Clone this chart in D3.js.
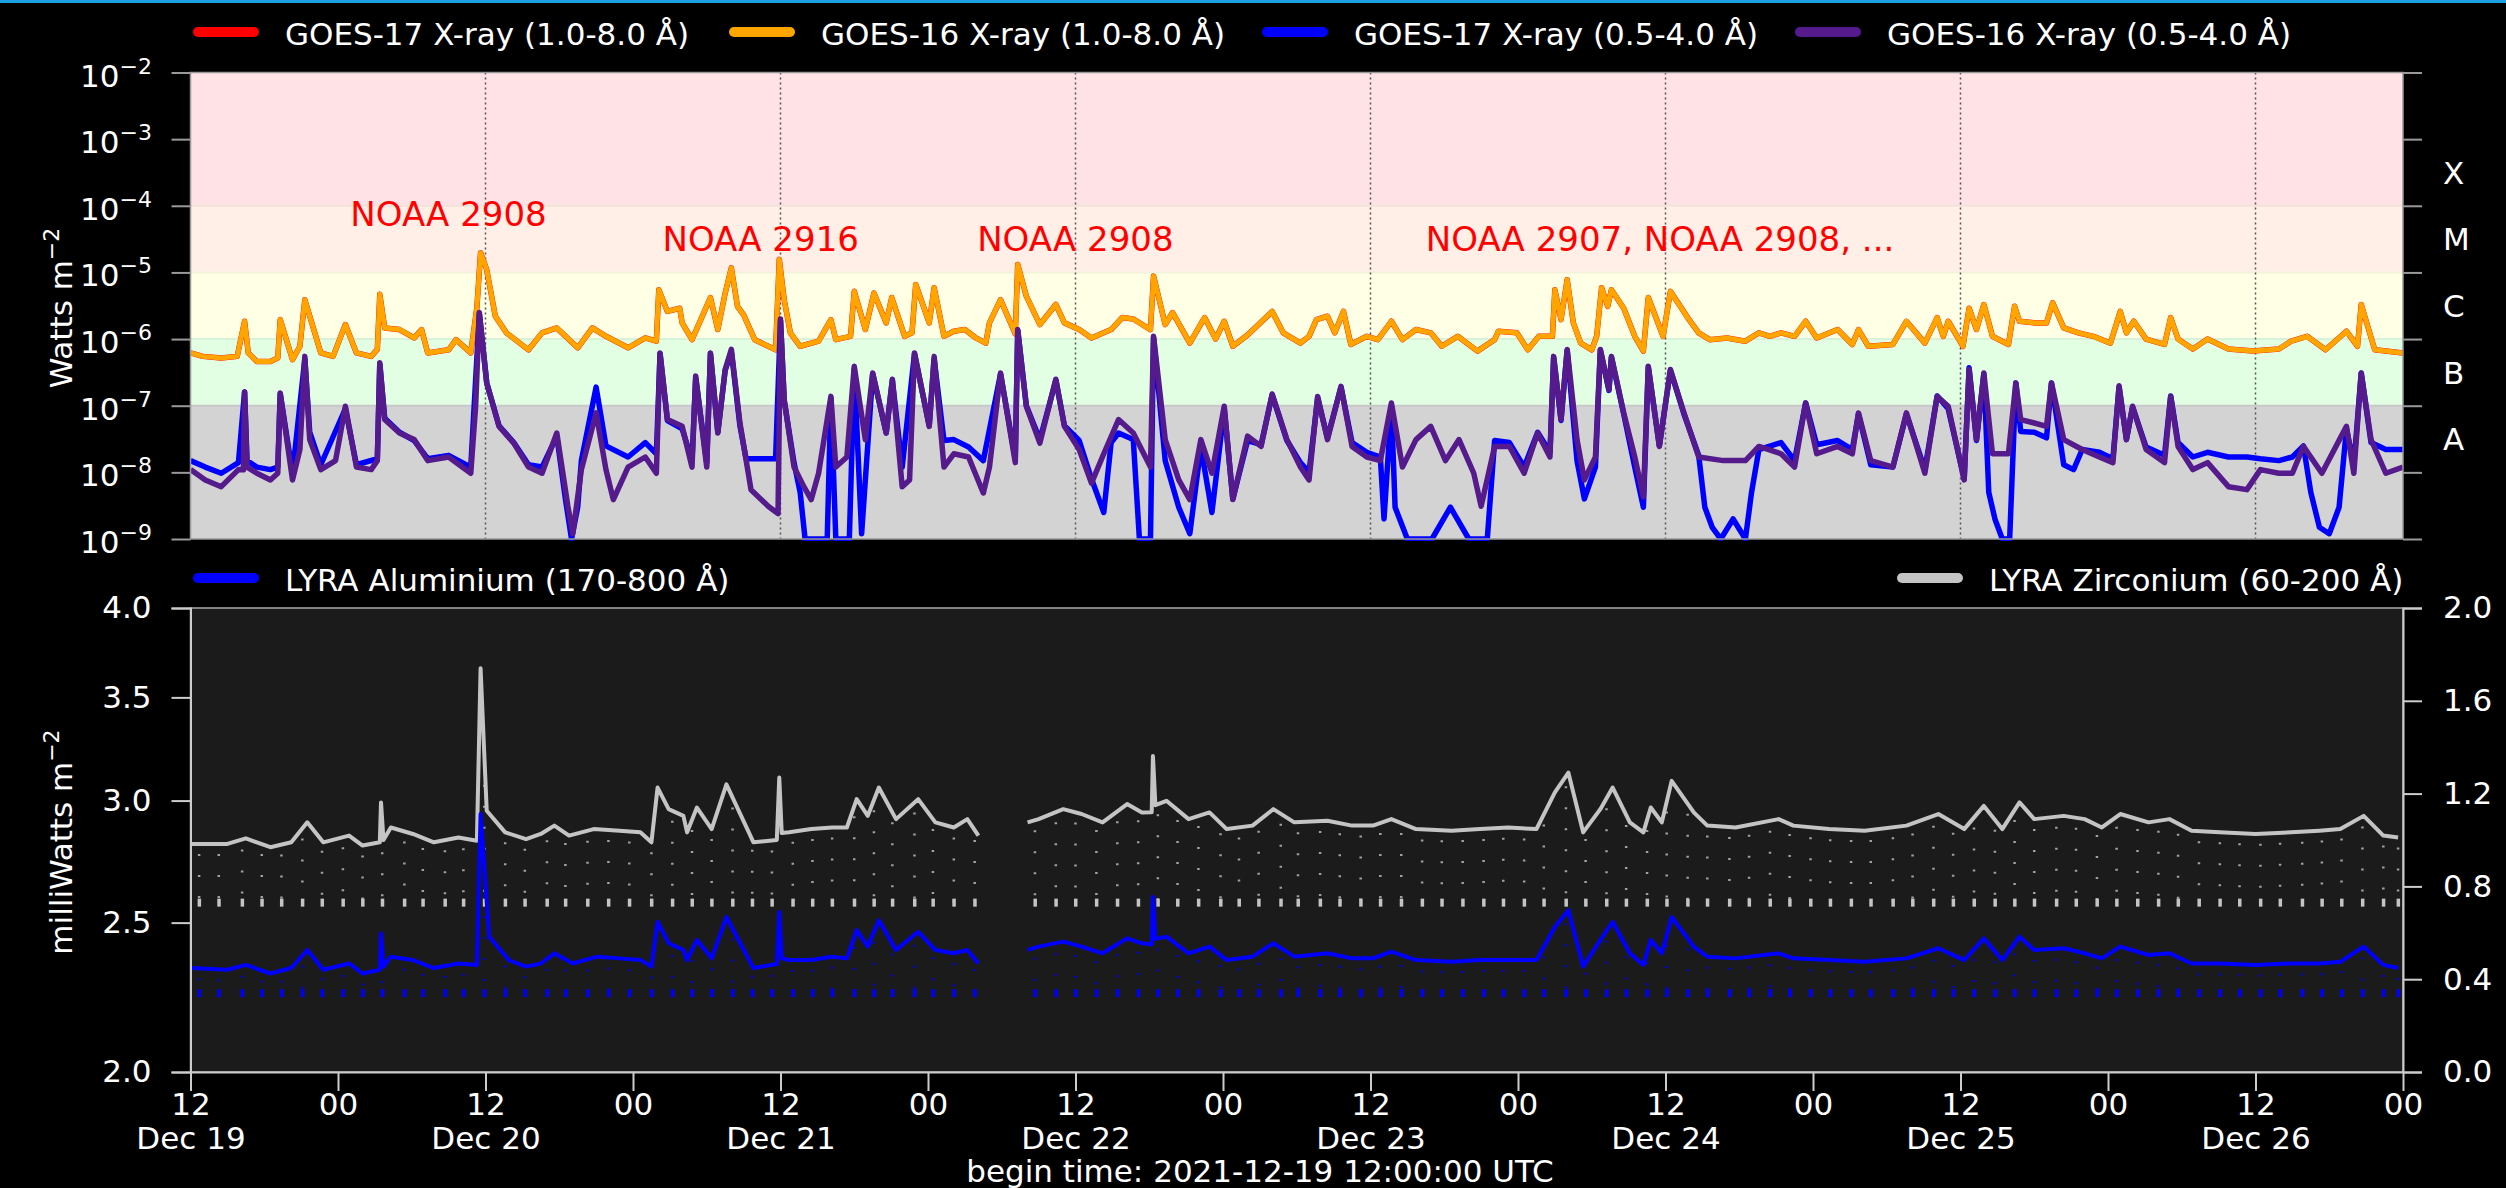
<!DOCTYPE html>
<html>
<head>
<meta charset="utf-8">
<title>GOES X-ray and LYRA</title>
<style>
  body { margin: 0; background: #000; }
  svg text { font-family: "DejaVu Sans", sans-serif; fill: #fff; }
</style>
</head>
<body>
<script src="https://cdn.jsdelivr.net/npm/d3@7"></script>
<script>
// hours after 2021-12-19 12:00 UTC
var startTime = Date.UTC(2021, 11, 19, 12);

// GOES-16 1.0-8.0 A, W/m^2
var goes16Long = [
  [0.0,6.2e-7],[1.0,5.5e-7],[2.5,5.2e-7],[3.8,5.5e-7],[4.4,1.85e-6],[4.7,6.2e-7],[5.4,4.6e-7],[6.5,4.6e-7],
  [7.1,5.2e-7],[7.3,1.96e-6],[8.3,4.9e-7],[8.9,7.8e-7],[9.3,3.9e-6],[10.6,6.2e-7],[11.6,5.5e-7],[12.6,1.65e-6],
  [13.5,6.2e-7],[14.7,5.5e-7],[15.2,7e-7],[15.4,4.7e-6],[15.8,1.47e-6],[17.0,1.39e-6],[18.2,1.04e-6],[18.8,1.39e-6],
  [19.3,6.2e-7],[21.0,6.9e-7],[21.6,9.8e-7],[22.8,6.2e-7],[23.3,3e-6],[23.6,1.98e-5],[24.1,1.1e-5],[24.8,2.2e-6],
  [25.7,1.24e-6],[27.5,6.9e-7],[28.6,1.24e-6],[29.8,1.47e-6],[31.5,7.4e-7],[32.7,1.47e-6],[33.8,1.1e-6],[35.6,7.4e-7],
  [37.0,1.04e-6],[37.9,9.3e-7],[38.1,5.5e-6],[38.8,2.6e-6],[39.8,2.9e-6],[40.0,1.75e-6],[40.8,9.8e-7],[41.4,1.75e-6],
  [42.3,4.2e-6],[42.9,1.39e-6],[43.5,4.9e-6],[44.0,1.17e-5],[44.5,3.1e-6],[45.0,2.3e-6],[45.9,9.8e-7],[47.6,6.9e-7],
  [47.9,1.57e-5],[48.3,3.9e-6],[48.8,1.24e-6],[49.6,7.8e-7],[51.1,9.3e-7],[52.1,1.96e-6],[52.5,9.8e-7],[53.7,1.1e-6],
  [54.0,5.2e-6],[54.9,1.39e-6],[55.6,4.9e-6],[56.6,1.75e-6],[57.05,4.2e-6],[58.1,1.1e-6],[58.7,1.24e-6],[59.0,6.6e-6],
  [60.1,1.75e-6],[60.5,5.9e-6],[61.3,1.1e-6],[62.1,1.31e-6],[63.0,1.39e-6],[63.9,1.04e-6],[64.7,8.7e-7],[65.0,1.75e-6],
  [65.9,3.9e-6],[67.1,1.2e-6],[67.3,1.32e-5],[68.0,4.4e-6],[69.1,1.65e-6],[70.4,3.3e-6],[71.1,1.75e-6],[72.3,1.39e-6],
  [73.3,1.04e-6],[74.9,1.39e-6],[75.8,2.1e-6],[76.7,2e-6],[78.1,1.39e-6],[78.35,8.8e-6],[79.3,1.65e-6],[79.9,2.5e-6],
  [81.3,8.7e-7],[82.5,2.1e-6],[83.4,1e-6],[84.1,1.85e-6],[84.8,7.8e-7],[86.0,1.15e-6],[88.0,2.6e-6],[88.9,1.24e-6],
  [90.3,8.7e-7],[91.0,1.1e-6],[91.6,1.96e-6],[92.5,2.2e-6],[93.1,1.24e-6],[93.8,2.6e-6],[94.4,8.3e-7],[95.7,1.1e-6],
  [96.6,9.8e-7],[97.7,1.85e-6],[98.6,9.8e-7],[99.7,1.39e-6],[100.9,1.24e-6],[101.8,7.8e-7],[103.1,1.1e-6],[104.7,6.6e-7],
  [106.1,9.8e-7],[106.4,1.31e-6],[107.9,1.24e-6],[108.8,6.9e-7],[109.7,1.1e-6],[110.8,1.1e-6],[111.0,5.5e-6],[111.5,1.96e-6],
  [112.0,7.8e-6],[112.5,1.75e-6],[113.1,8.7e-7],[114.0,6.9e-7],[114.4,1.1e-6],[114.8,5.9e-6],[115.3,3.1e-6],[115.6,5.5e-6],
  [116.6,2.9e-6],[117.5,1.1e-6],[118.2,6.6e-7],[118.6,4.2e-6],[119.8,1.1e-6],[120.4,5.2e-6],[121.2,3.1e-6],[121.8,2.1e-6],
  [122.7,1.24e-6],[123.6,9.8e-7],[125.0,1.04e-6],[126.5,9.3e-7],[127.6,1.24e-6],[128.5,1.1e-6],[129.4,1.24e-6],[130.5,1.1e-6],
  [131.4,1.85e-6],[132.3,1.04e-6],[134.0,1.39e-6],[135.2,8.3e-7],[135.7,1.39e-6],[136.5,7.8e-7],[138.5,8.3e-7],[139.6,1.85e-6],
  [141.1,8.7e-7],[142.1,2.1e-6],[142.6,1.1e-6],[143.0,1.85e-6],[144.2,7.8e-7],[144.7,2.9e-6],[145.3,1.39e-6],[145.9,3.3e-6],
  [146.6,1.1e-6],[147.9,8.3e-7],[148.4,3.1e-6],[148.8,1.85e-6],[150.0,1.75e-6],[151.0,1.75e-6],[151.5,3.5e-6],[152.4,1.47e-6],
  [153.6,1.24e-6],[154.8,1.1e-6],[156.2,8.7e-7],[157.0,2.6e-6],[157.5,1.24e-6],[158.1,1.85e-6],[159.1,1e-6],[160.6,8.3e-7],
  [161.1,2.1e-6],[161.7,1e-6],[162.9,7.1e-7],[164.1,1e-6],[165.8,7.1e-7],[167.8,6.6e-7],[169.9,7.1e-7],[170.9,9.3e-7],
  [172.2,1.1e-6],[173.7,6.9e-7],[175.4,1.31e-6],[176.3,7.8e-7],[176.6,3.3e-6],[177.7,6.9e-7],[178.6,6.6e-7],[180.0,6.2e-7]
];
// GOES-17 1.0-8.0 A lies on top of GOES-16 within the line width
var goes17Long = goes16Long;

// GOES-16 0.5-4.0 A
var goes16Short = [
  [0.0,1.1e-8],[1.2,7.7e-9],[2.5,6.1e-9],[3.9,1.1e-8],[4.3,1.09e-8],[4.4,1.6e-7],[4.6,1.2e-8],[5.4,9.7e-9],
  [6.5,7.7e-9],[7.1,9.7e-9],[7.3,1.55e-7],[8.3,7.7e-9],[8.9,2.2e-8],[9.3,5.5e-7],[9.7,3.1e-8],[10.6,1.1e-8],
  [11.8,1.5e-8],[12.6,9.8e-8],[13.5,1.2e-8],[14.7,1.1e-8],[15.2,1.5e-8],[15.4,4.4e-7],[15.8,6.2e-8],[17.0,3.9e-8],
  [18.2,3.1e-8],[19.3,1.5e-8],[21.0,1.7e-8],[22.8,9.7e-9],[23.2,1e-7],[23.5,2.5e-6],[24.1,2.2e-7],[25.1,4.9e-8],
  [26.3,2.75e-8],[27.5,1.2e-8],[28.6,9.7e-9],[29.8,3.9e-8],[30.7,3.1e-9],[31.1,1.2e-9],[31.8,1.1e-8],[33.0,7.8e-8],
  [33.8,1.1e-8],[34.4,3.9e-9],[35.6,1.2e-8],[37.0,1.7e-8],[37.9,9.7e-9],[38.2,6.2e-7],[38.8,6.2e-8],[40.0,4.9e-8],
  [40.8,1.2e-8],[41.1,2.8e-7],[42.0,1.2e-8],[42.3,6.2e-7],[42.9,3.9e-8],[43.5,3.5e-7],[44.0,7e-7],[44.7,5.5e-8],
  [45.6,5.5e-9],[47.0,3.1e-9],[47.8,2.4e-9],[48.0,2e-6],[48.3,1.23e-7],[49.1,1.2e-8],[49.9,6.1e-9],[50.5,3.9e-9],
  [51.1,9.7e-9],[52.1,1.38e-7],[52.5,1.2e-8],[53.4,1.7e-8],[54.0,3.9e-7],[54.9,3.1e-8],[55.5,3.1e-7],[56.6,3.9e-8],
  [57.1,2.5e-7],[57.9,6.1e-9],[58.5,7.7e-9],[58.9,6.2e-7],[60.1,4.9e-8],[60.5,5.5e-7],[61.3,1.2e-8],[62.1,1.9e-8],
  [63.3,1.7e-8],[64.5,4.9e-9],[65.0,1.2e-8],[65.9,3.1e-7],[67.1,1.4e-8],[67.3,1.39e-6],[68.0,9.8e-8],[69.1,2.75e-8],
  [70.4,2.5e-7],[71.1,4.9e-8],[72.3,2.2e-8],[73.3,6.9e-9],[74.3,1.9e-8],[75.5,6.2e-8],[76.7,3.9e-8],[78.1,1.2e-8],
  [78.35,1.1e-6],[79.3,3.1e-8],[80.4,7.7e-9],[81.3,3.9e-9],[82.2,3.1e-8],[83.1,9.7e-9],[84.1,9.8e-8],[84.8,3.9e-9],
  [86.0,3.5e-8],[87.1,2.45e-8],[88.0,1.5e-7],[89.2,3.1e-8],[90.3,1.2e-8],[91.0,7.7e-9],[91.7,1.38e-7],[92.5,3.1e-8],
  [93.6,1.95e-7],[94.5,2.45e-8],[95.7,1.7e-8],[96.8,1.5e-8],[97.7,1.1e-7],[98.6,1.2e-8],[99.7,3.1e-8],[100.9,4.9e-8],
  [102.1,1.5e-8],[103.2,3.1e-8],[104.4,9.7e-9],[105.0,3.1e-9],[106.1,2.45e-8],[107.3,2.45e-8],[108.5,9.7e-9],[109.6,3.9e-8],
  [110.6,1.7e-8],[110.9,5.5e-7],[111.5,6.2e-8],[112.0,7e-7],[112.8,3.1e-8],[113.4,7.7e-9],[114.3,1.7e-8],[114.7,7e-7],
  [115.4,1.74e-7],[115.6,5.5e-7],[116.6,7.8e-8],[117.5,1.7e-8],[118.2,4.3e-9],[118.6,3.9e-7],[119.5,2.45e-8],[120.4,3.5e-7],
  [121.5,7.8e-8],[122.7,1.7e-8],[124.7,1.5e-8],[126.5,1.5e-8],[127.6,2.45e-8],[129.4,1.9e-8],[130.5,1.2e-8],[131.4,1.1e-7],
  [132.3,1.9e-8],[134.0,2.45e-8],[135.2,1.9e-8],[135.7,7.8e-8],[136.7,1.5e-8],[138.5,1.2e-8],[139.6,7.8e-8],[141.1,9.7e-9],
  [142.1,1.38e-7],[143.0,9.8e-8],[144.3,7.7e-9],[144.7,3.5e-7],[145.3,3.1e-8],[145.9,3.1e-7],[146.6,1.9e-8],[147.9,1.9e-8],
  [148.5,2.2e-7],[148.9,6.2e-8],[150.0,5.5e-8],[151.0,4.9e-8],[151.4,2.2e-7],[152.4,3.1e-8],[153.9,2.2e-8],[155.3,1.7e-8],
  [156.4,1.4e-8],[156.9,2e-7],[157.5,3.1e-8],[158.0,9.8e-8],[159.1,2.2e-8],[160.6,1.4e-8],[161.1,1.38e-7],[161.7,2.45e-8],
  [162.9,1.1e-8],[164.1,1.4e-8],[165.8,6.1e-9],[167.3,5.5e-9],[168.4,1.1e-8],[169.9,9.7e-9],[171.0,9.7e-9],[171.9,2.45e-8],
  [173.4,9.7e-9],[175.4,4.9e-8],[176.0,9.7e-9],[176.6,3.1e-7],[177.4,3.1e-8],[178.6,9.7e-9],[180.0,1.2e-8]
];

// GOES-17 0.5-4.0 A
var goes17Short = [
  [0.0,1.5e-8],[1.2,1.2e-8],[2.5,9.7e-9],[3.9,1.4e-8],[4.4,1.6e-7],[4.6,1.5e-8],[5.4,1.2e-8],[6.5,1.1e-8],
  [7.1,1.2e-8],[7.3,1.5e-7],[8.3,9.7e-9],[9.3,5e-7],[9.7,4e-8],[10.6,1.3e-8],[12.6,9e-8],[13.5,1.3e-8],
  [15.2,1.6e-8],[15.4,4.2e-7],[15.8,6.5e-8],[17.0,4e-8],[18.2,3e-8],[19.3,1.6e-8],[21.0,1.8e-8],[22.8,1.2e-8],
  [23.5,2.4e-6],[24.1,2.2e-7],[25.1,5e-8],[26.3,2.8e-8],[27.5,1.3e-8],[28.6,1.2e-8],[29.8,3.5e-8],[30.5,4e-9],
  [31.0,1e-9],[31.5,3e-9],[31.8,1.5e-8],[33.0,1.9e-7],[33.8,2.5e-8],[35.6,1.7e-8],[37.0,2.8e-8],[37.9,1.9e-8],
  [38.2,6e-7],[38.8,6e-8],[40.0,4.5e-8],[40.8,1.5e-8],[41.1,2.6e-7],[42.0,1.4e-8],[42.3,6e-7],[42.9,4e-8],
  [43.5,3.4e-7],[44.0,6.5e-7],[44.7,5e-8],[45.2,1.6e-8],[47.6,1.6e-8],[48.0,1.9e-6],[48.3,1.2e-7],[49.1,1.4e-8],
  [49.6,5e-9],[50.0,1e-9],[51.8,1e-9],[52.1,1.3e-7],[52.5,1e-9],[53.6,1e-9],[54.0,3.5e-7],[54.6,1.2e-9],
  [55.5,3e-7],[56.6,3.9e-8],[57.1,2.4e-7],[57.9,1.2e-8],[58.9,6e-7],[60.1,5e-8],[60.5,5e-7],[61.3,3e-8],
  [62.1,3.1e-8],[63.3,2.4e-8],[64.5,1.5e-8],[65.9,3e-7],[67.1,1.6e-8],[67.3,1.35e-6],[68.0,1e-7],[69.1,3.1e-8],
  [70.4,2.4e-7],[71.1,5e-8],[72.3,3e-8],[73.3,8e-9],[74.3,2.5e-9],[74.9,2.8e-8],[75.5,3.9e-8],[76.7,3.1e-8],
  [77.2,1e-9],[78.1,1e-9],[78.35,1.05e-6],[79.3,1.5e-8],[80.4,3e-9],[81.3,1.2e-9],[82.2,2.4e-8],[83.1,2.5e-9],
  [84.1,9e-8],[84.8,4e-9],[86.0,3e-8],[87.1,2.6e-8],[88.0,1.45e-7],[89.2,3e-8],[90.3,1.4e-8],[91.0,1e-8],
  [91.7,1.3e-7],[92.5,3.3e-8],[93.6,1.9e-7],[94.5,2.8e-8],[95.7,2e-8],[96.8,1.7e-8],[97.1,2e-9],[97.7,1e-7],
  [98.0,3e-9],[99.0,1e-9],[101.0,1e-9],[102.5,3e-9],[104.0,1e-9],[105.5,1e-9],[106.1,3e-8],[107.3,2.8e-8],
  [108.5,1.2e-8],[109.6,4e-8],[110.6,2e-8],[110.9,5.3e-7],[111.5,6e-8],[112.0,6.8e-7],[112.8,1.5e-8],[113.4,4e-9],
  [114.3,1.2e-8],[114.7,6.8e-7],[115.4,1.7e-7],[115.6,5.3e-7],[116.6,7.5e-8],[117.5,1.2e-8],[118.2,3e-9],[118.6,3.8e-7],
  [119.5,2.5e-8],[120.4,3.4e-7],[121.5,7.5e-8],[122.7,1.8e-8],[123.2,3e-9],[123.8,1.5e-9],[124.5,1e-9],[125.5,2e-9],
  [126.5,1e-9],[127.0,5e-9],[127.6,2.2e-8],[129.4,2.8e-8],[130.5,1.5e-8],[131.4,1.1e-7],[132.3,2.6e-8],[134.0,3e-8],
  [135.2,2.2e-8],[135.7,7.5e-8],[136.7,1.3e-8],[138.5,1.2e-8],[139.6,7.5e-8],[141.1,1.1e-8],[142.1,1.4e-7],[143.0,9e-8],
  [144.3,8e-9],[144.7,3.7e-7],[145.3,3e-8],[145.9,3e-7],[146.3,5e-9],[146.8,2e-9],[147.4,1e-9],[148.0,1e-9],
  [148.5,2.2e-7],[148.9,4.1e-8],[150.0,4e-8],[151.0,3.3e-8],[151.4,2.2e-7],[152.4,1.3e-8],[153.2,1.1e-8],[153.9,2.2e-8],
  [155.3,2e-8],[156.4,1.6e-8],[156.9,1.9e-7],[157.5,3.1e-8],[158.0,9.5e-8],[159.1,2.4e-8],[160.6,1.8e-8],[161.1,1.4e-7],
  [161.7,2.8e-8],[162.9,1.7e-8],[164.1,2e-8],[165.8,1.7e-8],[167.3,1.7e-8],[168.4,1.6e-8],[169.9,1.5e-8],[171.0,1.7e-8],
  [171.9,2.5e-8],[172.5,5e-9],[173.2,1.5e-9],[174.0,1.2e-9],[174.8,3e-9],[175.4,4.5e-8],[176.0,1.3e-8],[176.6,3.1e-7],
  [177.4,2.8e-8],[178.6,2.2e-8],[180.0,2.2e-8]
];

// LYRA Zirconium (right axis) and Aluminium (left axis), mW/m^2; null = data gap
var lyraZr = [
  [0.1,0.983],[3.0,0.983],[4.5,1.007],[6.5,0.969],[8.2,0.990],[9.5,1.076],[10.8,0.990],[12.9,1.019],[14.0,0.976],
  [15.4,0.99],[15.5,1.162],[15.7,1.0],[16.3,1.054],[18.1,1.026],[19.8,0.990],[21.8,1.011],[23.3,0.997],[23.6,1.74],
  [24.1,1.126],[25.6,1.033],[27.3,1.004],[28.5,1.026],[29.6,1.062],[30.8,1.019],[32.8,1.047],[34.9,1.040],[36.6,1.033],
  [37.5,0.990],[38.0,1.226],[38.9,1.133],[40.1,1.104],[40.4,1.033],[41.2,1.140],[42.4,1.047],[43.6,1.240],[45.3,1.047],
  [45.8,0.990],[47.7,1.0],[47.9,1.269],[48.1,1.03],[48.7,1.033],[50.5,1.047],[52.2,1.054],[53.4,1.054],[54.2,1.176],
  [55.1,1.104],[56.0,1.226],[57.4,1.090],[59.2,1.176],[60.6,1.076],[62.1,1.054],[63.2,1.090],[64.1,1.019],[66.0,null],
  [68.1,1.076],[69.0,1.090],[71.0,1.133],[72.5,1.112],[74.2,1.076],[76.2,1.155],[77.4,1.119],[78.2,1.12],[78.3,1.362],
  [78.5,1.15],[79.4,1.169],[81.2,1.090],[82.9,1.119],[84.3,1.047],[86.4,1.062],[88.1,1.133],[89.8,1.076],[92.5,1.083],
  [94.5,1.062],[96.2,1.062],[97.7,1.090],[99.7,1.047],[102.6,1.040],[104.9,1.047],[107.2,1.054],[109.5,1.047],[111.0,1.205],
  [112.1,1.290],[113.3,1.033],[114.7,1.133],[115.7,1.226],[117.1,1.076],[118.2,1.033],[118.8,1.140],[119.7,1.076],[120.5,1.255],
  [122.3,1.119],[123.4,1.062],[125.7,1.054],[129.2,1.090],[130.4,1.062],[133.3,1.047],[136.2,1.040],[139.6,1.062],[142.2,1.112],
  [144.3,1.047],[145.9,1.147],[147.4,1.047],[148.8,1.162],[150.0,1.090],[152.4,1.104],[154.1,1.090],[155.5,1.054],[157.0,1.112],
  [159.3,1.076],[161.0,1.090],[162.8,1.040],[165.1,1.033],[168.0,1.026],[170.9,1.033],[173.2,1.040],[174.9,1.047],[176.8,1.104],
  [178.4,1.019],[179.6,1.011]
];
var lyraAl = [
  [0.1,2.336],[3.0,2.330],[4.5,2.347],[6.5,2.317],[8.2,2.336],[9.5,2.400],[10.8,2.330],[12.9,2.352],[14.0,2.317],
  [15.4,2.33],[15.5,2.460],[15.7,2.34],[16.3,2.376],[18.1,2.364],[19.8,2.336],[21.8,2.352],[23.3,2.347],[23.6,2.94],
  [24.3,2.448],[25.9,2.364],[27.3,2.341],[28.5,2.352],[29.6,2.388],[31.1,2.352],[33.1,2.376],[34.9,2.370],[36.6,2.364],
  [37.5,2.341],[38.0,2.503],[38.9,2.424],[40.1,2.400],[40.4,2.364],[41.2,2.436],[42.4,2.370],[43.6,2.521],[45.3,2.376],
  [45.8,2.336],[47.7,2.35],[47.9,2.540],[48.1,2.37],[48.7,2.364],[50.5,2.364],[52.2,2.376],[53.4,2.370],[54.2,2.472],
  [55.1,2.412],[56.0,2.509],[57.4,2.400],[59.2,2.466],[60.6,2.400],[62.1,2.388],[63.2,2.400],[64.1,2.352],[66.0,null],
  [68.1,2.400],[69.0,2.412],[71.0,2.430],[72.5,2.412],[74.2,2.388],[76.2,2.442],[77.4,2.424],[78.2,2.42],[78.3,2.598],
  [78.5,2.44],[79.4,2.448],[81.2,2.388],[82.9,2.412],[84.3,2.364],[86.4,2.376],[88.1,2.424],[89.8,2.376],[92.5,2.388],
  [94.5,2.370],[96.2,2.370],[97.7,2.394],[99.7,2.364],[102.6,2.358],[104.9,2.364],[107.2,2.364],[109.5,2.364],[111.0,2.484],
  [112.1,2.547],[113.3,2.341],[114.7,2.436],[115.7,2.503],[117.1,2.388],[118.2,2.347],[118.8,2.436],[119.7,2.388],[120.5,2.521],
  [122.3,2.412],[123.4,2.376],[125.7,2.370],[129.2,2.388],[130.4,2.370],[133.3,2.364],[136.2,2.358],[139.6,2.370],[142.2,2.406],
  [144.3,2.364],[145.9,2.442],[147.4,2.364],[148.8,2.448],[150.0,2.400],[152.4,2.406],[154.1,2.388],[155.5,2.370],[157.0,2.412],
  [159.3,2.382],[161.0,2.388],[162.8,2.352],[165.1,2.352],[168.0,2.347],[170.9,2.352],[173.2,2.352],[174.9,2.358],[176.8,2.412],
  [178.4,2.347],[179.6,2.336]
];
// times of the orbital dips seen as dotted rows under the LYRA traces
var lyraDipHours = [0.7,2.3,4.2,5.8,7.4,9.1,10.7,12.4,14.0,15.6,17.4,18.9,20.7,22.2,23.9,25.6,27.2,29.0,30.5,32.3,
  34.0,35.7,37.5,39.2,40.8,42.4,44.1,45.7,47.3,49.0,50.6,52.2,54.0,55.6,57.1,58.9,60.4,62.1,63.8,68.7,70.4,72.0,
  73.7,75.4,77.1,78.7,80.3,82.0,83.8,85.3,86.9,88.7,90.1,91.9,93.5,95.2,96.8,98.5,100.2,101.8,103.5,105.2,106.8,
  108.5,110.1,111.9,113.5,115.2,116.8,118.5,120.1,121.8,123.4,125.2,126.8,128.5,130.1,131.8,133.4,135.1,136.7,
  138.5,140.1,141.8,143.4,145.1,146.8,148.4,150.0,151.8,153.4,155.1,156.7,158.4,160.1,161.7,163.4,165.1,166.7,
  168.4,170.0,171.8,173.4,175.0,176.7,178.4,179.6];
var zrDipLevel = 0.73;
var alDipLevel = 2.25;

var flareClasses = ['A', 'B', 'C', 'M', 'X'];
var classLower = [1e-8, 1e-7, 1e-6, 1e-5, 1e-4];
var classColors = ['#d3d3d3', '#e2ffe4', '#ffffe6', '#ffefe6', '#ffe2e6'];
var fluxDecades = [1e-9, 1e-8, 1e-7, 1e-6, 1e-5, 1e-4, 1e-3, 1e-2];
var alTicks = [2.0, 2.5, 3.0, 3.5, 4.0];
var zrTicks = [0.0, 0.4, 0.8, 1.2, 1.6, 2.0];

var annotations = [
  {text: 'NOAA 2908', hour: 13.0, flux: 7.5e-5},
  {text: 'NOAA 2916', hour: 38.4, flux: 3.2e-5},
  {text: 'NOAA 2908', hour: 64.0, flux: 3.2e-5},
  {text: 'NOAA 2907, NOAA 2908, ...', hour: 100.5, flux: 3.2e-5}
];

var W = 2506, H = 1188;
var left = 190.5, right = 2403;
var topY0 = 72.5, topY1 = 539;
var botY0 = 608, botY1 = 1072;
var font = 31;

function t(h) { return new Date(startTime + h * 3600e3); }

var svg = d3.select('body').append('svg')
  .attr('width', W).attr('height', H).style('display', 'block');
svg.append('rect').attr('width', W).attr('height', H).attr('fill', '#000');
svg.append('rect').attr('width', W).attr('height', 3).attr('fill', '#1ba1e2');

var x = d3.scaleUtc().domain([t(0), t(180)]).range([left, right]);
var yFlux = d3.scaleLog().domain([1e-9, 1e-2]).range([topY1, topY0]);
var yAl = d3.scaleLog().domain([2, 4]).range([botY1, botY0]);
var yZr = d3.scaleLinear().domain([0, 2]).range([botY1, botY0]);

var defs = svg.append('defs');
defs.append('clipPath').attr('id', 'clipTop').append('rect')
  .attr('x', left).attr('y', topY0).attr('width', right - left).attr('height', topY1 - topY0 + 2);
defs.append('clipPath').attr('id', 'clipBot').append('rect')
  .attr('x', left).attr('y', botY0).attr('width', right - left).attr('height', botY1 - botY0);

// ---------- top panel: GOES ----------
var goesG = svg.append('g');
flareClasses.forEach(function(c, i) {
  var lo = i === 0 ? yFlux.domain()[0] : classLower[i];
  var hi = i === flareClasses.length - 1 ? yFlux.domain()[1] : classLower[i + 1];
  goesG.append('rect')
    .attr('x', left).attr('width', right - left)
    .attr('y', yFlux(hi)).attr('height', yFlux(lo) - yFlux(hi))
    .attr('fill', classColors[i]);
  if (i > 0) {
    goesG.append('line')
      .attr('x1', left).attr('x2', right)
      .attr('y1', yFlux(lo)).attr('y2', yFlux(lo))
      .attr('stroke', d3.color(classColors[i - 1]).darker(0.15)).attr('stroke-width', 2);
  }
  goesG.append('text')
    .attr('x', 2443).attr('y', yFlux(classLower[i] * Math.sqrt(10)))
    .attr('dy', '0.36em').attr('font-size', font).text(c);
});

// dotted lines at 12 UT
var noonTicks = x.ticks(d3.utcHour.every(12)).filter(function(d, i) {
  return d.getUTCHours() === 12 && i > 0;
});
goesG.selectAll('line.grid').data(noonTicks).enter().append('line')
  .attr('class', 'grid')
  .attr('x1', function(d) { return x(d); }).attr('x2', function(d) { return x(d); })
  .attr('y1', topY0).attr('y2', topY1)
  .attr('stroke', '#555').attr('stroke-width', 1.5).attr('stroke-dasharray', '2,3');

var fluxLine = d3.line()
  .x(function(d) { return x(t(d[0])); })
  .y(function(d) { return yFlux(d[1]); });

var fluxSeries = [
  {data: goes17Long, color: '#ff0000', w: 5.5},
  {data: goes16Long, color: '#ffa500', w: 5},
  {data: goes17Short, color: '#0000ff', w: 5.5},
  {data: goes16Short, color: '#551a8b', w: 5.5}
];
var traces = goesG.append('g').attr('clip-path', 'url(#clipTop)');
fluxSeries.forEach(function(s) {
  traces.append('path').datum(s.data)
    .attr('d', fluxLine)
    .attr('fill', 'none').attr('stroke', s.color)
    .attr('stroke-width', s.w).attr('stroke-linejoin', 'round');
});

goesG.selectAll('text.note').data(annotations).enter().append('text')
  .attr('class', 'note')
  .attr('x', function(d) { return x(t(d.hour)); })
  .attr('y', function(d) { return yFlux(d.flux); })
  .attr('dy', '0.36em').attr('font-size', 34)
  .style('fill', '#ff0000')
  .text(function(d) { return d.text; });

goesG.append('rect')
  .attr('x', left).attr('y', topY0).attr('width', right - left).attr('height', topY1 - topY0)
  .attr('fill', 'none').attr('stroke', '#999').attr('stroke-width', 1.5);

var fluxAxisL = goesG.append('g').attr('transform', 'translate(' + left + ',0)')
  .call(d3.axisLeft(yFlux).tickValues(fluxDecades).tickSize(19).tickFormat(''));
var fluxAxisR = goesG.append('g').attr('transform', 'translate(' + right + ',0)')
  .call(d3.axisRight(yFlux).tickValues(fluxDecades).tickSize(19).tickFormat(''));
[fluxAxisL, fluxAxisR].forEach(function(a) {
  a.select('.domain').remove();
  a.selectAll('.tick line').attr('stroke', '#999').attr('stroke-width', 2);
});
fluxDecades.forEach(function(v) {
  var lab = goesG.append('text')
    .attr('x', 152).attr('y', yFlux(v) + 14)
    .attr('text-anchor', 'end').attr('font-size', font);
  lab.append('tspan').text('10');
  lab.append('tspan').attr('dy', -13).attr('font-size', 22)
    .text('\u2212' + Math.round(-Math.log10(v)));
});

var yl1 = svg.append('text')
  .attr('transform', 'translate(72,308) rotate(-90)')
  .attr('text-anchor', 'middle').attr('font-size', font);
yl1.append('tspan').text('Watts m');
yl1.append('tspan').attr('dy', -13).attr('font-size', 22).text('\u22122');

// ---------- bottom panel: LYRA ----------
var lyraG = svg.append('g');
lyraG.append('rect')
  .attr('x', left).attr('y', botY0).attr('width', right - left).attr('height', botY1 - botY0)
  .attr('fill', '#1b1b1b');

var lyraTraces = lyraG.append('g').attr('clip-path', 'url(#clipBot)');

function valueAt(series, h) {
  for (var i = 1; i < series.length; i++) {
    var a = series[i - 1], b = series[i];
    if (h <= b[0]) {
      if (a[1] == null) return b[1];
      if (b[1] == null) return a[1];
      return a[1] + (b[1] - a[1]) * (h - a[0]) / (b[0] - a[0]);
    }
  }
  return series[series.length - 1][1];
}

var lyraSets = [
  {data: lyraZr, y: yZr, color: '#c4c4c4', dip: zrDipLevel},
  {data: lyraAl, y: yAl, color: '#0000ff', dip: alDipLevel}
];
lyraSets.forEach(function(s) {
  // dip columns: sparse dots between the trace and the dip level
  lyraTraces.selectAll(null).data(lyraDipHours).enter().append('line')
    .attr('x1', function(d) { return x(t(d)); }).attr('x2', function(d) { return x(t(d)); })
    .attr('y1', function(d) { return s.y(valueAt(s.data, d)) + 10; })
    .attr('y2', s.y(s.dip))
    .attr('stroke', s.color).attr('stroke-width', 2.5)
    .attr('stroke-dasharray', '2,19').attr('opacity', 0.8);
  lyraTraces.selectAll(null).data(lyraDipHours).enter().append('rect')
    .attr('x', function(d) { return x(t(d)) - 1.5; })
    .attr('y', s.y(s.dip) - 4).attr('width', 3.5).attr('height', 8)
    .attr('fill', s.color);
  var ln = d3.line()
    .defined(function(d) { return d[1] != null; })
    .x(function(d) { return x(t(d[0])); })
    .y(function(d) { return s.y(d[1]); });
  lyraTraces.append('path').datum(s.data)
    .attr('d', ln).attr('fill', 'none').attr('stroke', s.color)
    .attr('stroke-width', 4).attr('stroke-linejoin', 'round');
});

lyraG.append('rect')
  .attr('x', left).attr('y', botY0).attr('width', right - left).attr('height', botY1 - botY0)
  .attr('fill', 'none').attr('stroke', '#aaa').attr('stroke-width', 1.5);

var alAxis = lyraG.append('g').attr('transform', 'translate(' + left + ',0)')
  .call(d3.axisLeft(yAl).tickValues(alTicks).tickSize(19).tickPadding(20).tickFormat(d3.format('.1f')));
var zrAxis = lyraG.append('g').attr('transform', 'translate(' + right + ',0)')
  .call(d3.axisRight(yZr).tickValues(zrTicks).tickSize(19).tickPadding(21).tickFormat(d3.format('.1f')));
var xAxis = lyraG.append('g').attr('transform', 'translate(0,' + botY1 + ')')
  .call(d3.axisBottom(x).ticks(d3.utcHour.every(12)).tickSize(19).tickSizeOuter(0)
    .tickPadding(2).tickFormat(d3.utcFormat('%H')));
[alAxis, zrAxis, xAxis].forEach(function(a) {
  a.select('.domain').attr('stroke', '#ccc').attr('stroke-width', 2);
  a.selectAll('.tick line').attr('stroke', '#ccc').attr('stroke-width', 2);
  a.selectAll('.tick text').attr('font-size', font).attr('font-family', '"DejaVu Sans", sans-serif')
    .style('fill', '#fff');
});
xAxis.selectAll('.tick').filter(function(d) { return d.getUTCHours() === 12; })
  .append('text').attr('y', 77).attr('font-size', font)
  .attr('font-family', '"DejaVu Sans", sans-serif').style('fill', '#fff')
  .attr('text-anchor', 'middle')
  .text(function(d) { return d3.utcFormat('%b %d')(d); });

var yl2 = svg.append('text')
  .attr('transform', 'translate(72,842) rotate(-90)')
  .attr('text-anchor', 'middle').attr('font-size', font);
yl2.append('tspan').text('milliWatts m');
yl2.append('tspan').attr('dy', -13).attr('font-size', 22).text('\u22122');

svg.append('text').attr('x', 1260).attr('y', 1182)
  .attr('text-anchor', 'middle').attr('font-size', font)
  .text('begin time: 2021-12-19 12:00:00 UTC');

// ---------- legends ----------
var legendItems = [
  {label: 'GOES-17 X-ray (1.0-8.0 \u00c5)', color: '#ff0000', x: 193, y: 32},
  {label: 'GOES-16 X-ray (1.0-8.0 \u00c5)', color: '#ffa500', x: 729, y: 32},
  {label: 'GOES-17 X-ray (0.5-4.0 \u00c5)', color: '#0000ff', x: 1262, y: 32},
  {label: 'GOES-16 X-ray (0.5-4.0 \u00c5)', color: '#551a8b', x: 1795, y: 32},
  {label: 'LYRA Aluminium (170-800 \u00c5)', color: '#0000ff', x: 193, y: 578},
  {label: 'LYRA Zirconium (60-200 \u00c5)', color: '#c4c4c4', x: 1897, y: 578}
];
var leg = svg.selectAll('g.leg').data(legendItems).enter().append('g')
  .attr('class', 'leg')
  .attr('transform', function(d) { return 'translate(' + d.x + ',' + d.y + ')'; });
leg.append('line')
  .attr('x1', 5).attr('x2', 61).attr('y1', 0).attr('y2', 0)
  .attr('stroke', function(d) { return d.color; })
  .attr('stroke-width', 10).attr('stroke-linecap', 'round');
leg.append('text')
  .attr('x', 92).attr('y', 13).attr('font-size', font)
  .text(function(d) { return d.label; });
</script>
</body>
</html>
